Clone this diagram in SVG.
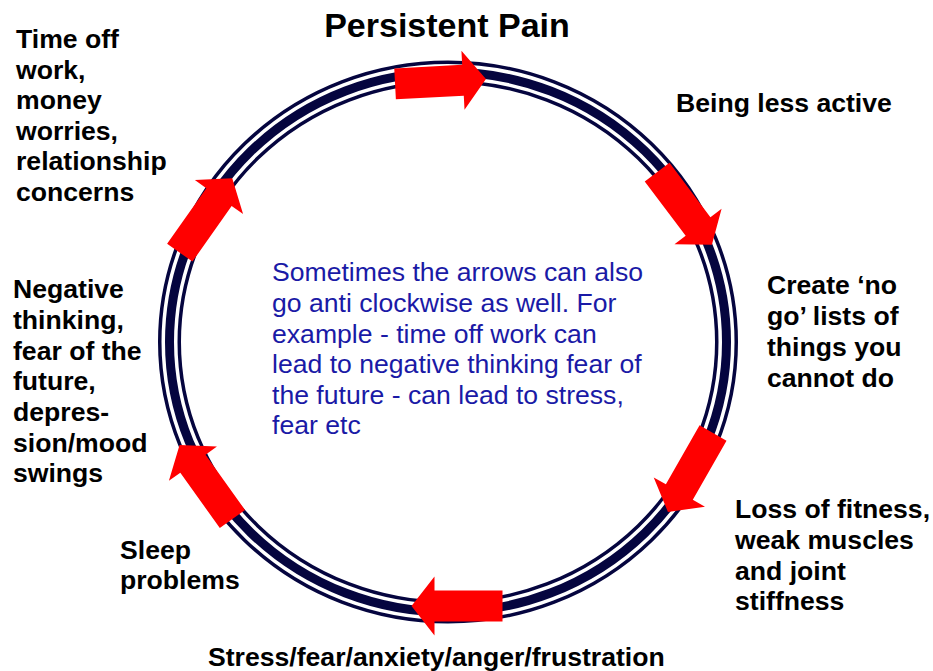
<svg xmlns="http://www.w3.org/2000/svg" xmlns:xlink="http://www.w3.org/1999/xlink" width="933" height="671" viewBox="0 0 933 671">
<style>
.lbl{font-family:"Liberation Sans",Arial,Helvetica,sans-serif;font-weight:bold;font-size:26.6px;fill:#000}
.title{font-family:"Liberation Sans",Arial,Helvetica,sans-serif;font-weight:bold;font-size:34px;fill:#000}
.note{font-family:"Liberation Sans",Arial,Helvetica,sans-serif;font-size:26.6px;fill:#1a1aa6}
.ring{fill:none}
</style>
<defs>
<polygon id="arr" points="-45.5,-15.5 22.5,-15.5 22.5,-29.5 45.5,0 22.5,29.5 22.5,15.5 -45.5,15.5" fill="#ff0000"/>
</defs>
<rect width="933" height="671" fill="#fff"/>
<g id="cycle-ring">
<ellipse class="ring" cx="448" cy="342" rx="278.5" ry="270" stroke="#05053f" stroke-width="23"/>
<ellipse class="ring" cx="448" cy="342" rx="278.5" ry="270" stroke="#fff" stroke-width="16"/>
<ellipse class="ring" cx="448" cy="342" rx="278.5" ry="270" stroke="#05053f" stroke-width="9"/>
</g>
<g id="connectors">
<use xlink:href="#arr" href="#arr" transform="translate(440.5,81.5) rotate(-3)"/>
<use xlink:href="#arr" href="#arr" transform="translate(684.5,208.5) rotate(53)"/>
<use xlink:href="#arr" href="#arr" transform="translate(690.5,472.5) rotate(119.7)"/>
<use xlink:href="#arr" href="#arr" transform="translate(457,606) rotate(180)"/>
<use xlink:href="#arr" href="#arr" transform="translate(206,482) rotate(234.5)"/>
<use xlink:href="#arr" href="#arr" transform="translate(206,215.5) rotate(-54.8)"/>
</g>
<g id="title"><text class="title" x="447" y="37" text-anchor="middle">Persistent Pain</text></g>
<g id="node-being-less-active"><text class="lbl" x="676" y="112">Being less active</text></g>
<g id="node-no-go-lists">
<text class="lbl" x="767" y="294">Create ‘no</text>
<text class="lbl" x="767" y="325">go’ lists of</text>
<text class="lbl" x="767" y="356">things you</text>
<text class="lbl" x="767" y="387">cannot do</text>
</g>
<g id="node-loss-of-fitness">
<text class="lbl" x="735" y="518">Loss of fitness,</text>
<text class="lbl" x="735" y="549">weak muscles</text>
<text class="lbl" x="735" y="580">and joint</text>
<text class="lbl" x="735" y="610">stiffness</text>
</g>
<g id="node-stress"><text class="lbl" x="208" y="666">Stress/fear/anxiety/anger/frustration</text></g>
<g id="node-sleep">
<text class="lbl" x="120" y="559">Sleep</text>
<text class="lbl" x="120" y="589">problems</text>
</g>
<g id="node-negative-thinking">
<text class="lbl" x="13" y="298">Negative</text>
<text class="lbl" x="13" y="329">thinking,</text>
<text class="lbl" x="13" y="360">fear of the</text>
<text class="lbl" x="13" y="390">future,</text>
<text class="lbl" x="13" y="421">depres-</text>
<text class="lbl" x="13" y="452">sion/mood</text>
<text class="lbl" x="13" y="482">swings</text>
</g>
<g id="node-time-off-work">
<text class="lbl" x="16" y="48">Time off</text>
<text class="lbl" x="16" y="79">work,</text>
<text class="lbl" x="16" y="109">money</text>
<text class="lbl" x="16" y="140">worries,</text>
<text class="lbl" x="16" y="170">relationship</text>
<text class="lbl" x="16" y="201">concerns</text>
</g>
<g id="note">
<text class="note" x="272" y="281">Sometimes the arrows can also</text>
<text class="note" x="272" y="312">go anti clockwise as well. For</text>
<text class="note" x="272" y="343">example - time off work can</text>
<text class="note" x="272" y="373">lead to negative thinking fear of</text>
<text class="note" x="272" y="404">the future - can lead to stress,</text>
<text class="note" x="272" y="434">fear etc</text>
</g>
</svg>
